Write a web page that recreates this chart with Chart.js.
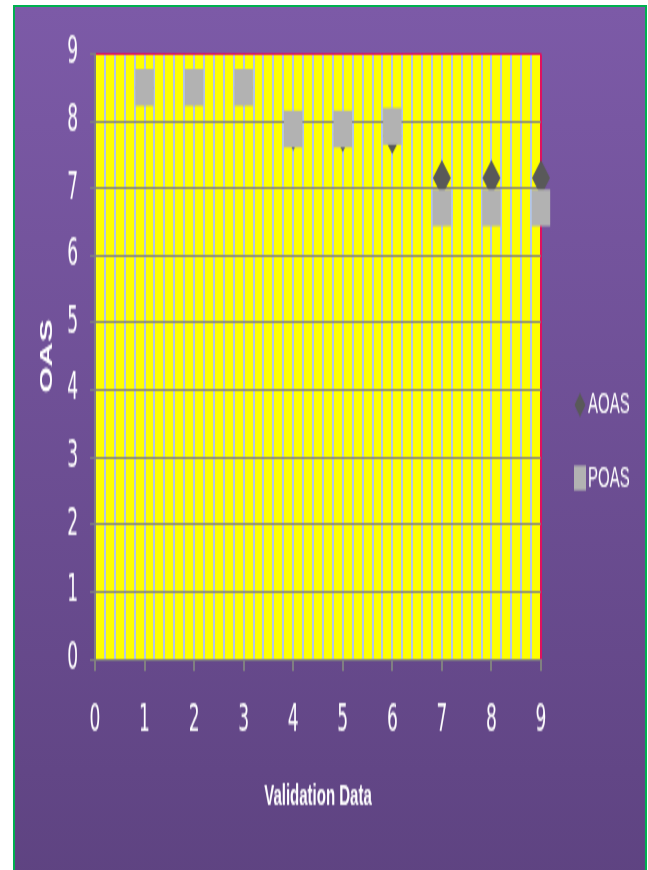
<!DOCTYPE html>
<html>
<head>
<meta charset="utf-8">
<script src="https://cdn.jsdelivr.net/npm/chart.js@4/dist/chart.umd.min.js"></script>
<style>
  html, body { margin: 0; padding: 0; background: #ffffff; overflow: hidden; width: 648px; height: 870px; }
  #frame {
    position: absolute; left: 13px; top: 5px; width: 630px; height: 880px;
    border: 2px solid #00B050; border-bottom: none;
    background: linear-gradient(to bottom, #7C5AA7 0%, #5E4381 100%);
  }
  #stretch { position: absolute; left: 0; top: 0; width: 630px; height: 432px; transform: scaleY(2); transform-origin: 0 0; }
  canvas { display: block; }
</style>
</head>
<body>
<div id="frame"><div id="stretch"><canvas id="c" width="630" height="432"></canvas></div></div>
<script>
// ---- data ----
const xValues = [1, 2, 3, 4, 5, 6, 7, 8, 9];
const aoasValues = [8.5, 8.5, 8.5, 7.83, 7.81, 7.78, 7.15, 7.15, 7.15];
const poasValues = [8.5, 8.5, 8.5, 7.88, 7.88, 7.92, 6.71, 6.71, 6.71];
const seriesNames = ['AOAS', 'POAS'];
const xAxisTitle = 'Validation Data';
const yAxisTitle = 'OAS';
const axisMin = 0;
const axisMax = 9;

const narrow = "'Liberation Sans Narrow', 'DejaVu Sans Condensed', 'Liberation Sans', sans-serif";
const normal = "'Liberation Sans', Arial, sans-serif";
const isInt = v => Math.abs(v - Math.round(v)) < 1e-6;

const plotBg = {
  id: 'plotBg',
  beforeDraw(chart) {
    const { ctx, chartArea: a } = chart;
    ctx.save();
    ctx.fillStyle = '#FFFF00';
    ctx.fillRect(a.left, a.top, a.right - a.left, a.bottom - a.top);
    ctx.restore();
  }
};

const sideLegend = {
  id: 'sideLegend',
  afterDraw(chart) {
    const ctx = chart.ctx;
    ctx.save();
    chart.data.datasets.forEach((ds, i) => {
      const y = 199 + i * 36.5;
      const mx = 565;
      ctx.fillStyle = ds.backgroundColor;
      ctx.beginPath();
      if (ds.pointStyle === 'rectRot') {
        ctx.moveTo(mx, y - 6); ctx.lineTo(mx + 5.5, y); ctx.lineTo(mx, y + 6); ctx.lineTo(mx - 5.5, y);
        ctx.closePath();
      } else {
        ctx.rect(mx - 6, y - 6.2, 12, 12.4);
      }
      ctx.fill();
      ctx.fillStyle = '#FFFFFF';
      ctx.font = "15px " + normal;
      ctx.textBaseline = 'middle';
      ctx.textAlign = 'left';
      ctx.fillText(ds.label, 573, y);
    });
    ctx.restore();
  }
};

new Chart(document.getElementById('c'), {
  type: 'scatter',
  data: {
    datasets: [
      {
        label: seriesNames[0],
        data: xValues.map((x, i) => ({ x: x, y: aoasValues[i] })),
        pointStyle: 'rectRot', pointRadius: 9,
        backgroundColor: '#595959', borderColor: '#595959', borderWidth: 0,
        clip: false,
        order: 1
      },
      {
        label: seriesNames[1],
        data: xValues.map((x, i) => ({ x: x, y: poasValues[i] })),
        pointStyle: 'rect', pointRadius: 13,
        backgroundColor: '#B2B2B2', borderColor: '#B2B2B2', borderWidth: 0,
        clip: false,
        order: 0
      }
    ]
  },
  options: {
    responsive: false,
    animation: false,
    devicePixelRatio: 1,
    events: [],
    layout: { padding: { top: 22.5, right: 104, bottom: 0, left: 0 } },
    plugins: { legend: { display: false }, tooltip: { enabled: false } },
    scales: {
      x: {
        type: 'linear', min: axisMin, max: axisMax,
        afterFit(s) { s.height = 106; },
        ticks: {
          stepSize: 0.2, autoSkip: false, maxTicksLimit: 100, maxRotation: 0,
          color: '#FFFFFF', font: { family: narrow, size: 19 }, padding: 14,
          callback: v => isInt(v) ? String(Math.round(v)) : ''
        },
        grid: {
          lineWidth: 2, tickLength: 6,
          color: c => (c.tick && isInt(c.tick.value) && Math.round(c.tick.value) === axisMax) ? '#E0115F'
                    : (c.tick && c.tick.value === axisMin ? '#808080' : '#B4C6E7'),
          tickColor: c => (c.tick && isInt(c.tick.value)) ? '#808080' : 'rgba(0,0,0,0)'
        },
        border: { color: '#808080', width: 1 },
        title: {
          display: true, text: xAxisTitle, color: '#FFFFFF',
          font: { family: normal, size: 15, weight: 'bold' },
          padding: { top: 0, bottom: 28.2 }
        }
      },
      y: {
        type: 'linear', min: axisMin, max: axisMax,
        z: -1,
        afterFit(s) { s.width = 80; },
        ticks: { stepSize: 1, color: '#FFFFFF', font: { family: narrow, size: 19 }, padding: 12 },
        grid: {
          lineWidth: 1, tickLength: 5,
          color: c => (c.tick && c.tick.value === axisMax) ? '#E0115F' : '#808080',
          tickColor: '#808080'
        },
        border: { color: '#808080', width: 1 },
        title: {
          display: true, text: yAxisTitle, color: '#FFFFFF',
          font: { family: normal, size: 17, weight: 'bold' },
          padding: { top: 22, bottom: 0 }
        }
      }
    }
  },
  plugins: [plotBg, sideLegend]
});
</script>
</body>
</html>
